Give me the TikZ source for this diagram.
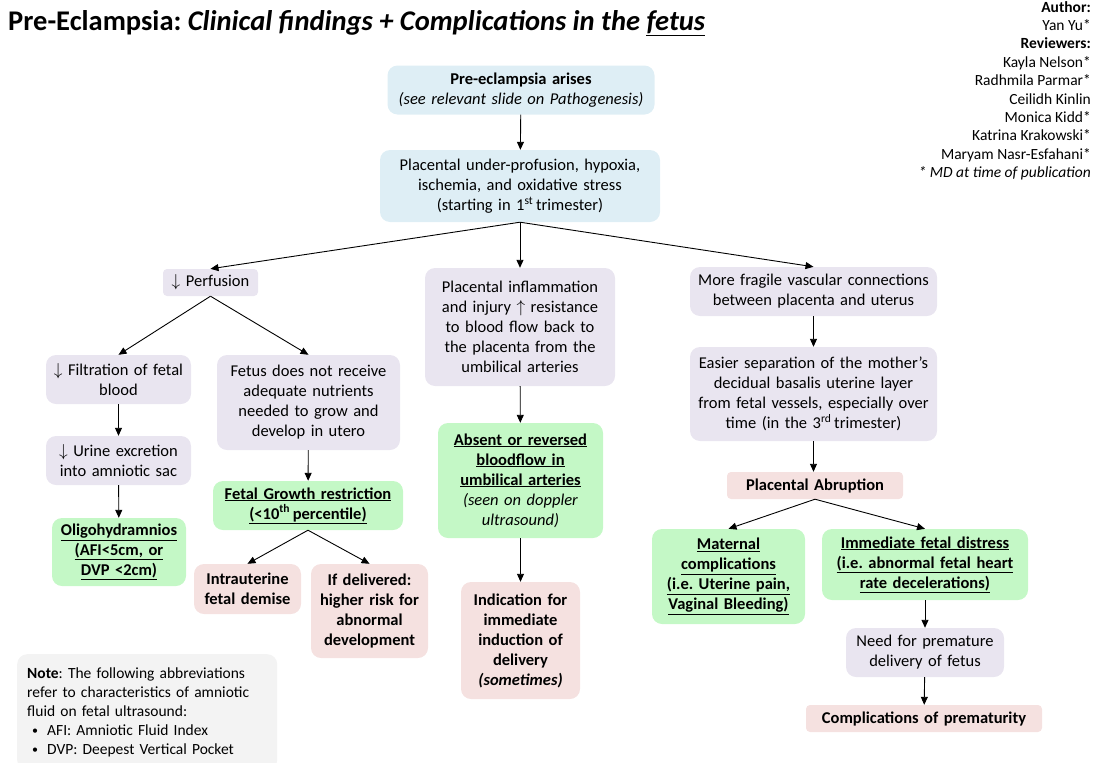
\documentclass[tikz,border=0pt]{standalone}
\usepackage{fontspec}
\setmainfont{Carlito}
\usepackage{tikz}
\usetikzlibrary{arrows.meta}
\frenchspacing

\definecolor{blufill}{RGB}{222,238,245}
\definecolor{lavfill}{RGB}{233,229,240}
\definecolor{grnfill}{RGB}{196,248,198}
\definecolor{pnkfill}{RGB}{245,225,224}
\definecolor{notefill}{RGB}{243,243,243}

\tikzset{
  basebox/.style={rounded corners=10pt, align=center, inner sep=2pt,
    font=\fontsize{16.5}{20}\selectfont},
  blubox/.style={basebox, fill=blufill},
  lavbox/.style={basebox, fill=lavfill},
  grnbox/.style={basebox, fill=grnfill},
  pnkbox/.style={basebox, fill=pnkfill},
  smallcorner/.style={rounded corners=4pt},
  arr/.style={-{Triangle[length=8pt,width=7pt]}, line width=0.9pt}
}
\newcommand{\notebul}{\hspace*{5pt}\raisebox{0.8pt}{\fontsize{12}{12}\selectfont\textbullet}\hspace{9pt}}

\begin{document}
\begin{tikzpicture}[x=1pt,y=1pt,yscale=-1,xscale=1]
\useasboundingbox (0,0) rectangle (1098,763);

% Title
\node[anchor=base west, inner sep=0] (title) at (8,30) {\fontsize{28.5}{34}\selectfont\textbf{Pre-Eclampsia: \textit{Clinical findings + Complications in the \underline{fetus}}}};

% Credits
\node[anchor=north east, align=right, inner sep=0, font=\fontsize{15.5}{18.4}\selectfont] (credits) at (1091,1) {\textbf{Author:}\\ Yan Yu*\\ \textbf{Reviewers:}\\ Kayla Nelson*\\ Radhmila Parmar*\\ Ceilidh Kinlin\\ Monica Kidd*\\ Katrina Krakowski*\\ Maryam Nasr-Esfahani*\\ \textit{* MD at time of publication}};

% Top of the chart
\node[blubox, text width=263pt, minimum height=49pt] (arise) at (521,90) {\textbf{Pre-eclampsia arises}\\ \textit{(see relevant slide on Pathogenesis)}};
\node[blubox, text width=276pt, minimum height=72pt] (hypox) at (520,186) {Placental under-profusion, hypoxia,\\ ischemia, and oxidative stress\\ (starting in 1\textsuperscript{st}\,trimester)};

% Left branch
\node[lavbox, smallcorner, text width=91pt, minimum height=27pt] (perf) at (210.5,282.5) {$\downarrow$ Perfusion};
\node[lavbox, text width=141pt, minimum height=49pt] (filt) at (118.5,379.5) {$\downarrow$ Filtration of fetal\\ blood};
\node[lavbox, text width=179pt, minimum height=95pt] (nutr) at (308.5,402.5) {Fetus does not receive\\ adequate nutrients\\ needed to grow and\\ develop in utero};
\node[lavbox, text width=141pt, minimum height=49pt] (urine) at (118.5,460.5) {$\downarrow$ Urine excretion\\ into amniotic sac};
\node[grnbox, text width=130pt, minimum height=68pt] (oligo) at (119,552) {\textbf{\underline{Oligohydramnios}}\\ \textbf{\underline{(AFI<5cm, or}}\\ \textbf{\underline{DVP <2cm)}}};
\node[grnbox, text width=186pt, minimum height=49pt] (fgr) at (308,505.5) {\textbf{\underline{Fetal Growth restriction}}\\ \textbf{\underline{(<10\textsuperscript{th}\,percentile)}}};
\node[pnkbox, text width=103pt, minimum height=50pt] (demise) at (247.5,589) {\textbf{Intrauterine}\\ \textbf{fetal demise}};
\node[pnkbox, text width=113pt, minimum height=94pt] (risk) at (369.5,611) {\textbf{If delivered:}\\ \textbf{higher risk for}\\ \textbf{abnormal}\\ \textbf{development}};

% Note
\node[basebox, fill=notefill, anchor=north west, align=left, text width=240pt, minimum height=116pt, inner sep=10pt, font=\fontsize{15.5}{19}\selectfont] (note) at (17,654) {\textbf{Note}: The following abbreviations\\ refer to characteristics of amniotic\\ fluid on fetal ultrasound:\\ \notebul AFI: Amniotic Fluid Index\\ \notebul DVP: Deepest Vertical Pocket};

% Middle branch
\node[lavbox, text width=186pt, minimum height=118pt] (infl) at (520,327) {Placental inflammation\\ and injury $\uparrow$ resistance\\ to blood flow back to\\ the placenta from the\\ umbilical arteries};
\node[grnbox, text width=161pt, minimum height=115pt] (absent) at (520.5,480.5) {\textbf{\underline{Absent or reversed}}\\ \textbf{\underline{bloodflow in}}\\ \textbf{\underline{umbilical arteries}}\\ \textit{(seen on doppler}\\ \textit{ultrasound)}};
\node[pnkbox, text width=115pt, minimum height=117pt] (induct) at (520.5,640.5) {\textbf{Indication for}\\ \textbf{immediate}\\ \textbf{induction of}\\ \textbf{delivery}\\ \textbf{\textit{(sometimes)}}};

% Right branch
\node[lavbox, text width=243pt, minimum height=49pt] (fragile) at (813.5,291.5) {More fragile vascular connections\\ between placenta and uterus};
\node[lavbox, text width=243pt, minimum height=94pt] (separ) at (813.5,394) {Easier separation of the mother's\\ decidual basalis uterine layer\\ from fetal vessels, especially over\\ time (in the 3\textsuperscript{rd}\,trimester)};
\node[pnkbox, smallcorner, text width=172pt, minimum height=27pt] (abrupt) at (815,485.5) {\textbf{Placental Abruption}};
\node[grnbox, text width=149pt, minimum height=95pt] (matern) at (728.5,576.5) {\textbf{\underline{Maternal}}\\ \textbf{\underline{complications}}\\ \textbf{\underline{(i.e. Uterine pain,}}\\ \textbf{\underline{Vaginal Bleeding)}}};
\node[grnbox, text width=202pt, minimum height=71pt] (distress) at (925,564.5) {\textbf{\underline{Immediate fetal distress}}\\ \textbf{\underline{(i.e. abnormal fetal heart}}\\ \textbf{\underline{rate decelerations)}}};
\node[lavbox, text width=154pt, minimum height=49pt] (prem) at (925,652.5) {Need for premature\\ delivery of fetus};
\node[pnkbox, smallcorner, text width=232pt, minimum height=27pt] (compl) at (924,718.5) {\textbf{Complications of prematurity}};

% Arrows
\draw[arr] (arise) -- (hypox);
\draw[arr] (hypox.south) -- (perf.north);
\draw[arr] (hypox.south) -- (infl.north);
\draw[arr] (hypox.south) -- (fragile.north);
\draw[arr] (perf.south) -- (filt.north);
\draw[arr] (perf.south) -- (nutr.north);
\draw[arr] (filt) -- (urine);
\draw[arr] (urine) -- (oligo);
\draw[arr] (nutr) -- (fgr);
\draw[arr] (fgr.south) -- (demise.north);
\draw[arr] (fgr.south) -- (risk.north);
\draw[arr] (infl) -- (absent);
\draw[arr] (absent) -- (induct);
\draw[arr] (fragile) -- (separ);
\draw[arr] (separ.south) -- (separ.south |- abrupt.north);
\draw[arr] (abrupt.south) -- (matern.north);
\draw[arr] (abrupt.south) -- (distress.north);
\draw[arr] (distress) -- (prem);
\draw[arr] (prem) -- (compl);

\end{tikzpicture}
\end{document}
